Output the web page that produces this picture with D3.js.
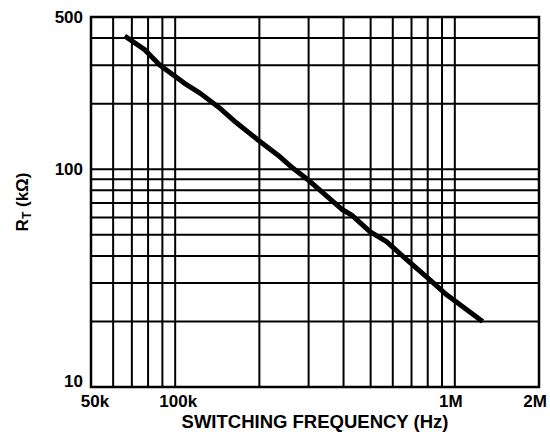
<!DOCTYPE html>
<html>
<head>
<meta charset="utf-8">
<script src="https://cdn.jsdelivr.net/npm/d3@7"></script>
<style>
  html, body { margin: 0; padding: 0; background: #fff; }
  svg { display: block; font-family: "Liberation Sans", Arial, Helvetica, sans-serif; font-weight: bold; }
</style>
</head>
<body>
<svg id="chart" width="550" height="432"></svg>
<script>
// RT versus switching frequency (kHz on input, kΩ output)
const freqKHz = [66, 78, 88, 108, 123, 145, 166, 201, 237, 264, 303, 394, 428, 497, 570, 654, 815, 935, 1257];
const rtKOhm  = [409, 353, 301, 248, 223, 190, 163, 134, 114, 101, 88, 65.5, 61.6, 51.7, 46.5, 39.7, 31, 26.5, 20];

// axis ranges and labels
const xDomainHz = [50e3, 2e6];
const yDomainK = [10, 500];
const xGridHz = [60e3, 70e3, 80e3, 90e3, 100e3, 200e3, 300e3, 400e3, 500e3, 600e3, 700e3, 800e3, 900e3, 1e6];
const yGridK = [20, 30, 40, 50, 60, 70, 80, 90, 100, 200, 300, 400];
const xTickHz = [50e3, 100e3, 1e6, 2e6];
const xTickLabels = ["50k", "100k", "1M", "2M"];
const yTickK = [10, 100, 500];
const yTickLabels = ["10", "100", "500"];

const plot = { left: 91, right: 539, top: 17, bottom: 387 };

const svg = d3.select("#chart");
const x = d3.scaleLog().domain(xDomainHz).range([plot.left, plot.right]);
const y = d3.scaleLog().domain(yDomainK).range([plot.bottom, plot.top]);

// grid
const grid = svg.append("g").attr("stroke", "#000").attr("stroke-width", 2);
grid.selectAll("line.v").data(xGridHz).join("line")
  .attr("class", "v")
  .attr("x1", d => x(d)).attr("x2", d => x(d))
  .attr("y1", plot.top).attr("y2", plot.bottom);
grid.selectAll("line.h").data(yGridK).join("line")
  .attr("class", "h")
  .attr("x1", plot.left).attr("x2", plot.right)
  .attr("y1", d => y(d)).attr("y2", d => y(d));

// frame
svg.append("rect")
  .attr("x", plot.left).attr("y", plot.top)
  .attr("width", plot.right - plot.left).attr("height", plot.bottom - plot.top)
  .attr("fill", "none").attr("stroke", "#000").attr("stroke-width", 2.5);

// curve
const pts = freqKHz.map((f, i) => [f * 1e3, rtKOhm[i]]);
svg.append("path")
  .datum(pts)
  .attr("fill", "none")
  .attr("stroke", "#000")
  .attr("stroke-width", 5)
  .attr("stroke-linejoin", "round")
  .attr("d", d3.line().x(d => x(d[0])).y(d => y(d[1])));

// y tick labels
svg.append("g").selectAll("text").data(yTickK).join("text")
  .attr("x", plot.left - 8)
  .attr("y", d => y(d))
  .attr("dy", (d, i) => i === 0 ? "0.0em" : "0.35em")
  .attr("text-anchor", "end")
  .attr("font-size", 17)
  .text((d, i) => yTickLabels[i]);

// x tick labels
const xShift = [4, 3, -4, -4];
svg.append("g").selectAll("text").data(xTickHz).join("text")
  .attr("x", (d, i) => x(d) + xShift[i])
  .attr("y", plot.bottom + 19.5)
  .attr("text-anchor", "middle")
  .attr("font-size", 17)
  .text((d, i) => xTickLabels[i]);

// axis titles
svg.append("text")
  .attr("x", 315).attr("y", 428)
  .attr("text-anchor", "middle")
  .attr("font-size", 18.5)
  .text("SWITCHING FREQUENCY (Hz)");

const yt = svg.append("text")
  .attr("transform", "translate(28,202) rotate(-90)")
  .attr("text-anchor", "middle")
  .attr("font-size", 17);
yt.append("tspan").text("R");
yt.append("tspan").attr("font-size", 12).attr("dy", 3).text("T");
yt.append("tspan").attr("dy", -3).text(" (kΩ)");
</script>
</body>
</html>
